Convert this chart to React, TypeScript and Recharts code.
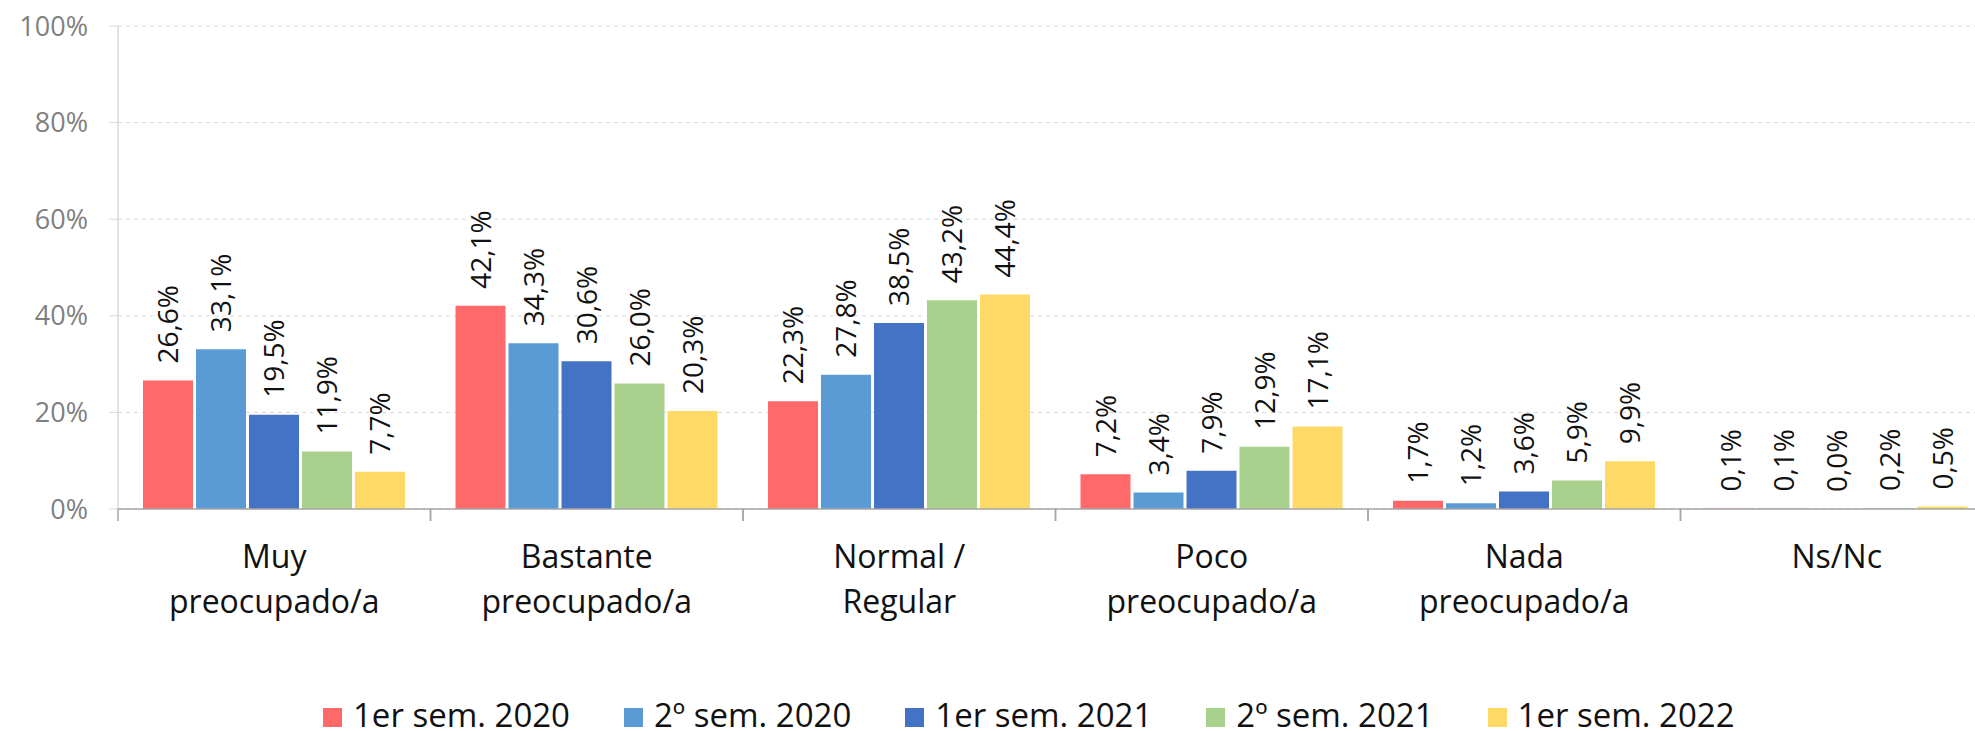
import React from 'react';
import { BarChart, Bar, XAxis, YAxis, CartesianGrid, Legend, LabelList } from 'recharts';

const categories = [
  'Muy\npreocupado/a',
  'Bastante\npreocupado/a',
  'Normal /\nRegular',
  'Poco\npreocupado/a',
  'Nada\npreocupado/a',
  'Ns/Nc',
];

const seriesNames = ['1er sem. 2020', '2º sem. 2020', '1er sem. 2021', '2º sem. 2021', '1er sem. 2022'];
const seriesColors = ['#FF6969', '#5B9BD5', '#4472C4', '#A9D18E', '#FFD966'];

const sem1_2020 = [26.6, 42.1, 22.3, 7.2, 1.7, 0.1];
const sem2_2020 = [33.1, 34.3, 27.8, 3.4, 1.2, 0.1];
const sem1_2021 = [19.5, 30.6, 38.5, 7.9, 3.6, 0.0];
const sem2_2021 = [11.9, 26.0, 43.2, 12.9, 5.9, 0.2];
const sem1_2022 = [7.7, 20.3, 44.4, 17.1, 9.9, 0.5];

const yTicks = [0, 20, 40, 60, 80, 100];

const series = [sem1_2020, sem2_2020, sem1_2021, sem2_2021, sem1_2022];

const data = categories.map((category, i) => {
  const row: Record<string, string | number> = { category };
  series.forEach((s, k) => {
    row['s' + k] = s[i];
  });
  return row;
});

const FONT = "'Open Sans', sans-serif";
const CHART_W = 2000;
const CHART_H = 731;
const YAXIS_W = 118;
const MARGIN_RIGHT = 7;
const BAND = (CHART_W - YAXIS_W - MARGIN_RIGHT) / categories.length;

const fmt = (v: number) => v.toFixed(1).replace('.', ',') + '%';

function CategoryTick(props: any) {
  const { x, y, payload } = props;
  const half = payload && payload.offset ? payload.offset : BAND / 2;
  const lines = String(payload.value).split('\n');
  return (
    <g>
      <line x1={x - half} x2={x - half} y1={y} y2={y + 12} stroke="#a6a6a6" strokeWidth={1.5} />
      <line x1={x + half} x2={x + half} y1={y} y2={y + 12} stroke="#a6a6a6" strokeWidth={1.5} />
      <text x={x} y={y + 59} textAnchor="middle" fontSize={32} fill="#111" fontFamily={FONT}>
        {lines.map((l, i) => (
          <tspan key={i} x={x} dy={i === 0 ? 0 : 45}>
            {l}
          </tspan>
        ))}
      </text>
    </g>
  );
}

function ValueLabel(props: any) {
  const { x, y, width, value } = props;
  const cx = x + width / 2;
  const ty = y - 17;
  return (
    <text
      x={cx}
      y={ty}
      dy="0.36em"
      transform={`rotate(-90, ${cx}, ${ty})`}
      textAnchor="start"
      fontSize={28}
      fill="#111"
      fontFamily={FONT}
    >
      {fmt(Number(value))}
    </text>
  );
}

function LegendContent() {
  return (
    <div style={{ display: 'flex', alignItems: 'center', height: 44, fontFamily: FONT, whiteSpace: 'nowrap' }}>
      {seriesNames.map((name, i) => (
        <div key={name} style={{ display: 'flex', alignItems: 'center', marginRight: 54 }}>
          <span
            style={{ display: 'inline-block', width: 19, height: 19, background: seriesColors[i], marginRight: 11, position: 'relative', top: 3 }}
          />
          <span style={{ fontSize: 33, lineHeight: '33px', color: '#111' }}>{name}</span>
        </div>
      ))}
    </div>
  );
}

export default function App() {
  return (
    <div style={{ position: 'absolute', left: 0, top: 0, width: 1975, height: 731, overflow: 'hidden', background: '#fff' }}>
      <BarChart
        width={CHART_W}
        height={CHART_H}
        data={data}
        margin={{ top: 26, right: MARGIN_RIGHT, bottom: 0, left: 0 }}
        barGap={3}
        barCategoryGap={25}
      >
        <CartesianGrid vertical={false} stroke="#d9d9d9" strokeDasharray="4 4" />
        <YAxis
          width={YAXIS_W}
          domain={[0, 100]}
          ticks={yTicks}
          tickFormatter={(v: number) => `${v}%`}
          axisLine={{ stroke: '#d9d9d9', strokeWidth: 1.5 }}
          tickLine={{ stroke: '#d9d9d9' }}
          tickSize={9}
          tickMargin={21}
          tick={{ fontSize: 27, fill: '#7f7f7f', fontFamily: FONT }}
          interval={0}
        />
        <XAxis
          dataKey="category"
          height={178}
          tickSize={0}
          tickMargin={0}
          tickLine={false}
          axisLine={{ stroke: '#a6a6a6', strokeWidth: 1.5 }}
          tick={<CategoryTick />}
          interval={0}
        />
        <Legend
          verticalAlign="bottom"
          content={<LegendContent />}
          wrapperStyle={{ left: 323, top: 692, width: 'auto', height: 44 }}
        />
        {seriesNames.map((name, k) => (
          <Bar
            key={name}
            dataKey={'s' + k}
            name={name}
            fill={seriesColors[k]}
            minPointSize={(v: number) => (v === 0 ? 0.01 : 0)}
            isAnimationActive={false}
          >
            <LabelList dataKey={'s' + k} content={<ValueLabel />} />
          </Bar>
        ))}
      </BarChart>
    </div>
  );
}
